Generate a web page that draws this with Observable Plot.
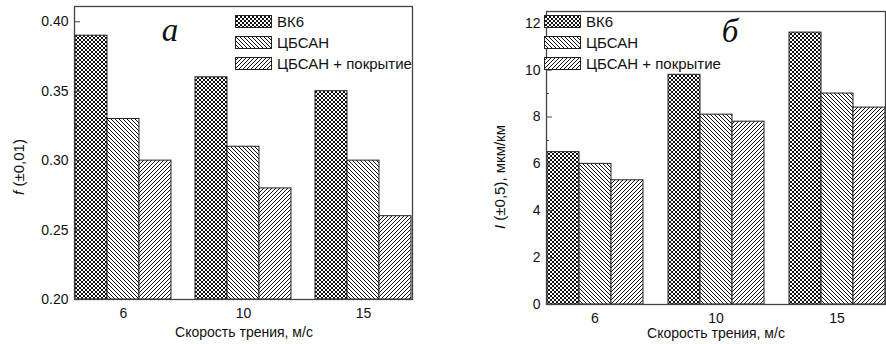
<!DOCTYPE html>
<html><head><meta charset="utf-8">
<script src="https://cdn.jsdelivr.net/npm/d3@7"></script>
<script src="https://cdn.jsdelivr.net/npm/@observablehq/plot@0.6"></script>
<style>
body{margin:0;background:#fff;}
#wrap{position:relative;width:886px;height:344px;overflow:hidden;font-family:"Liberation Sans",Arial,sans-serif;color:#111;}
.abs{position:absolute;white-space:nowrap;line-height:1;}
.plot{position:absolute;top:0;}
.legrow{display:flex;align-items:center;height:21px;font-size:15px;}
.legrow svg{margin-right:5px;}
.ylab{position:absolute;white-space:nowrap;font-size:15px;transform:translate(-50%,-50%) rotate(-90deg);}
.xlab{position:absolute;white-space:nowrap;font-size:14px;transform:translate(-50%,-50%);}
.letter{position:absolute;font-family:"Liberation Serif","Times New Roman",serif;font-style:italic;font-size:33px;line-height:1;transform:translateX(-50%);}
</style></head><body>
<svg width="0" height="0" style="position:absolute">
<defs>
<pattern id="pCross" patternUnits="userSpaceOnUse" width="4" height="4">
<rect width="4" height="4" fill="#fff"/>
<g fill="#111" shape-rendering="crispEdges">
<rect x="0" y="0" width="1" height="1"/><rect x="1" y="1" width="1" height="1"/><rect x="2" y="2" width="1" height="1"/><rect x="3" y="3" width="1" height="1"/>
<rect x="3" y="0" width="1" height="1"/><rect x="2" y="1" width="1" height="1"/><rect x="1" y="2" width="1" height="1"/><rect x="0" y="3" width="1" height="1"/>
</g>
</pattern>
<pattern id="pBack" patternUnits="userSpaceOnUse" width="4" height="4">
<rect width="4" height="4" fill="#fff"/>
<g fill="#111" shape-rendering="crispEdges">
<rect x="0" y="0" width="1" height="1"/><rect x="1" y="1" width="1" height="1"/><rect x="2" y="2" width="1" height="1"/><rect x="3" y="3" width="1" height="1"/>
</g>
</pattern>
<pattern id="pFwd" patternUnits="userSpaceOnUse" width="4" height="4">
<rect width="4" height="4" fill="#fff"/>
<g fill="#111" shape-rendering="crispEdges">
<rect x="3" y="0" width="1" height="1"/><rect x="2" y="1" width="1" height="1"/><rect x="1" y="2" width="1" height="1"/><rect x="0" y="3" width="1" height="1"/>
</g>
</pattern>
</defs></svg>
<div id="wrap"></div>
<script>
// ---- data ----
const speeds = ["6", "10", "15"];
const series = ["ВК6", "ЦБСАН", "ЦБСАН + покрытие"];
const patterns = ["pCross", "pBack", "pFwd"];
// panel a: friction coefficient f
const frictionVK6 = [0.39, 0.36, 0.35];
const frictionCBSAN = [0.33, 0.31, 0.30];
const frictionCoated = [0.30, 0.28, 0.26];
// panel б: wear intensity I, мкм/км
const wearVK6 = [6.5, 9.8, 11.6];
const wearCBSAN = [6.0, 8.1, 9.0];
const wearCoated = [5.3, 7.8, 8.4];
const fTicks = [0.20, 0.25, 0.30, 0.35, 0.40];
const fMinor = [0.225, 0.275, 0.325, 0.375];
const wTicks = [0, 2, 4, 6, 8, 10, 12];
const wMinor = [1, 3, 5, 7, 9, 11];

function table(arrays) {
  const rows = [];
  speeds.forEach((s, i) => series.forEach((name, j) => rows.push({speed: s, series: name, value: arrays[j][i], pat: `url(#${patterns[j]})`})));
  return rows;
}
const fData = table([frictionVK6, frictionCBSAN, frictionCoated]);
const wData = table([wearVK6, wearCBSAN, wearCoated]);

function panel(o) {
  return Plot.plot({
    width: o.width, height: 344,
    marginLeft: o.ml, marginRight: o.mr, marginTop: o.mt, marginBottom: o.mb,
    style: {fontFamily: "'Liberation Sans', Arial, sans-serif", fontSize: "14px", color: "#111", background: "transparent", overflow: "visible"},
    fx: {domain: speeds, paddingInner: o.pi, paddingOuter: o.po, label: null, round: true},
    x: {domain: series, paddingInner: 0, paddingOuter: 0, axis: null, round: true},
    y: {domain: o.yDomain, label: null},
    color: {type: "identity"},
    marks: [
      Plot.barY(o.data, {fx: "speed", x: "series", y1: o.yDomain[0], y2: "value", fill: "pat", stroke: "#222", strokeWidth: 1}),
      Plot.frame({facet: "super", stroke: "#444", strokeWidth: 1.3}),
      Plot.axisY({ticks: o.yTicks, tickSize: 0, tickPadding: 6, tickFormat: o.fmt, label: null, fontSize: 14}),
      Plot.axisY({ticks: o.yTicks, tickSize: 6, text: null, label: null, dx: 6, stroke: "#444"}),
      Plot.axisY({ticks: o.yMinor, tickSize: 3, text: null, label: null, dx: 3, stroke: "#444"}),
      Plot.axisFx({anchor: "bottom", tickSize: 0, tickPadding: 9, label: null, fontSize: 14})
    ]
  });
}

const wrap = document.getElementById("wrap");
const left = panel({data: fData, width: 443, ml: 62, mr: 19, mt: 6, mb: 45, pi: 0.1875, po: 0.094,
  yDomain: [0.2, 0.411], yTicks: fTicks, yMinor: fMinor, fmt: d3.format(".2f")});
left.classList.add("plot"); left.style.left = "0px";
wrap.appendChild(left);
const right = panel({data: wData, width: 463, ml: 91, mr: 10, mt: 11, mb: 40, pi: 0.2, po: 0.084,
  yDomain: [0, 12.5], yTicks: wTicks, yMinor: wMinor, fmt: d3.format("d")});
right.classList.add("plot"); right.style.left = "443px";
wrap.appendChild(right);

function legend(x, y) {
  const div = document.createElement("div");
  div.className = "abs";
  div.style.left = x + "px"; div.style.top = y + "px";
  series.forEach((name, j) => {
    const row = document.createElement("div");
    row.className = "legrow";
    row.innerHTML = `<svg width="37" height="13"><rect x="0.5" y="0.5" width="36" height="12" fill="url(#${patterns[j]})" stroke="#222"/></svg><span>${name}</span>`;
    div.appendChild(row);
  });
  wrap.appendChild(div);
}
legend(235, 11);
legend(544, 11);

function addText(cls, x, y, html) {
  const d = document.createElement("div");
  d.className = cls; d.style.left = x + "px"; d.style.top = y + "px"; d.innerHTML = html;
  wrap.appendChild(d);
}
addText("ylab", 18, 167, "<i>f</i> (±0,01)");
addText("ylab", 499, 177, "<i>I</i> (±0,5), мкм/км");
addText("xlab", 244, 332, "Скорость трения, м/с");
addText("xlab", 716, 333, "Скорость трения, м/с");
addText("letter", 170, 14, "а");
addText("letter", 730, 15, "б");
</script>
</body></html>
